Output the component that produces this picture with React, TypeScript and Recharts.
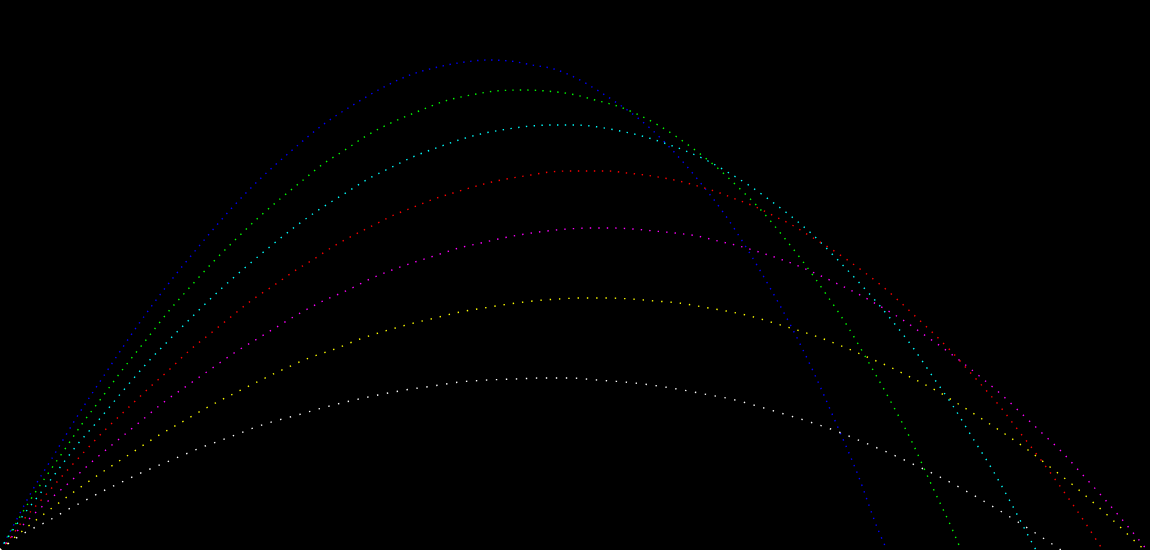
import { LineChart, Line, XAxis, YAxis } from 'recharts';

// distance (m), height (m) pairs
const blueArc: [number, number][] = [
  [0, 0], [1.1, 2.0], [3.2, 5.9], [5.4, 9.5], [7.5, 13.0], [10.7, 17.9], [13.8, 22.5], [16.9, 26.7],
  [20.0, 30.5], [23.0, 34.0], [26.0, 37.1], [29.0, 39.8], [32.4, 42.6], [35.3, 44.5], [38.2, 46.2],
  [41.0, 47.5], [43.8, 48.3], [46.5, 48.8], [48.8, 49.0], [51.0, 48.9], [53.2, 48.5], [55.4, 48.1],
  [57.6, 47.2], [59.7, 46.0], [61.7, 44.7], [63.0, 43.8], [65.1, 42.1], [67.5, 39.7], [69.9, 36.9],
  [72.3, 33.8], [74.6, 30.3], [76.9, 26.4], [79.2, 22.2], [81.4, 17.7], [83.6, 12.7], [85.8, 7.5],
  [87.9, 1.8], [88.7, 0],
];

const greenArc: [number, number][] = [
  [0, 0], [1.2, 2.0], [2.9, 4.8], [4.7, 7.5], [6.5, 10.1], [8.2, 12.6], [10.0, 15.0], [12.3, 18.1],
  [14.6, 21.0], [16.8, 23.8], [19.1, 26.4], [21.3, 28.8], [23.6, 31.1], [25.8, 33.2], [28.0, 35.1],
  [30.2, 36.9], [32.3, 38.6], [34.5, 40.0], [36.6, 41.4], [39.3, 42.8], [41.9, 43.9], [44.5, 44.9],
  [47.1, 45.5], [49.6, 45.9], [52.1, 46.0], [54.6, 45.9], [57.1, 45.6], [59.5, 45.0], [62.0, 44.3],
  [63.9, 43.5], [65.8, 42.5], [67.7, 41.3], [69.5, 40.0], [71.4, 38.5], [73.7, 36.4], [76.0, 34.1],
  [78.2, 31.5], [80.4, 28.7], [82.6, 25.6], [84.8, 22.3], [86.9, 18.7], [89.1, 14.8], [91.2, 10.8],
  [93.2, 6.4], [95.3, 1.9], [96.1, 0],
];

const cyanArc: [number, number][] = [
  [0, 0], [1.9, 2.9], [3.9, 5.5], [5.8, 8.0], [7.7, 10.5], [9.7, 12.8], [12.2, 15.8], [14.7, 18.7],
  [17.3, 21.4], [19.8, 23.9], [22.2, 26.2], [24.7, 28.4], [27.2, 30.5], [29.6, 32.4], [32.0, 34.1],
  [34.4, 35.6], [36.8, 37.1], [39.2, 38.3], [41.5, 39.4], [43.9, 40.3], [46.2, 41.1], [48.5, 41.7],
  [50.8, 42.1], [53.1, 42.4], [55.4, 42.5], [57.6, 42.5], [59.8, 42.3], [62.0, 41.9], [64.2, 41.4],
  [66.4, 40.7], [68.6, 39.9], [70.8, 38.9], [72.9, 37.7], [75.0, 36.4], [77.1, 34.9], [79.2, 33.3],
  [81.3, 31.5], [83.3, 29.5], [85.3, 27.4], [87.4, 25.1], [89.4, 22.7], [91.4, 20.1], [93.3, 17.3],
  [95.3, 14.4], [97.2, 11.3], [99.2, 8.1], [101.1, 4.7], [103.0, 1.1], [103.6, 0],
];

const redArc: [number, number][] = [
  [0, 0], [0.8, 0.9], [2.1, 2.7], [4.3, 5.2], [6.4, 7.6], [8.5, 9.9], [10.6, 12.1], [12.8, 14.2],
  [14.9, 16.2], [17.0, 18.1], [19.0, 20.0], [21.1, 21.7], [23.2, 23.4], [25.2, 25.0], [27.3, 26.4],
  [29.3, 27.8], [31.4, 29.1], [33.4, 30.4], [35.4, 31.5], [37.4, 32.5], [39.4, 33.5], [41.4, 34.3],
  [43.4, 35.1], [45.3, 35.7], [47.3, 36.3], [49.2, 36.8], [51.2, 37.2], [53.1, 37.5], [55.0, 37.8],
  [57.0, 37.9], [58.9, 37.9], [60.8, 37.9], [62.7, 37.7], [64.5, 37.5], [66.4, 37.2], [68.3, 36.8],
  [70.1, 36.3], [72.0, 35.7], [73.8, 35.0], [75.6, 34.3], [77.4, 33.4], [79.2, 32.5], [81.0, 31.4],
  [82.8, 30.3], [84.6, 29.1], [86.4, 27.8], [88.2, 26.4], [89.9, 24.9], [91.6, 23.3], [93.4, 21.6],
  [95.1, 19.9], [96.8, 18.0], [98.5, 16.1], [100.2, 14.1], [101.8, 12.0], [103.5, 9.8], [105.2, 7.5],
  [106.9, 5.1], [108.6, 2.6], [109.7, 0.9], [110.3, 0],
];

const magentaArc: [number, number][] = [
  [0, 0], [2.3, 2.5], [4.7, 4.8], [7.1, 6.9], [9.4, 9.0], [11.8, 11.0], [14.1, 12.9], [16.4, 14.8],
  [18.8, 16.5], [21.1, 18.1], [23.4, 19.7], [25.7, 21.1], [28.0, 22.5], [30.2, 23.8], [32.5, 25.0],
  [34.8, 26.0], [37.0, 27.1], [39.2, 28.0], [41.5, 28.8], [43.7, 29.5], [45.9, 30.2], [48.1, 30.7],
  [50.3, 31.2], [52.5, 31.6], [54.7, 31.9], [56.8, 32.1], [59.0, 32.2], [61.1, 32.2], [63.3, 32.1],
  [65.4, 31.9], [67.5, 31.7], [69.7, 31.4], [71.8, 30.9], [73.9, 30.4], [75.9, 29.8], [78.0, 29.1],
  [80.1, 28.3], [82.1, 27.4], [84.2, 26.4], [86.2, 25.4], [88.3, 24.2], [90.3, 23.0], [92.3, 21.6],
  [94.3, 20.2], [96.3, 18.7], [98.3, 17.1], [100.3, 15.4], [102.2, 13.6], [104.2, 11.7], [106.2, 9.8],
  [108.1, 7.7], [110.0, 5.6], [112.0, 3.3], [113.9, 1.0], [114.7, 0],
];

const yellowArc: [number, number][] = [
  [0, 0], [2.6, 2.2], [5.2, 4.2], [7.8, 6.1], [10.4, 7.9], [13.0, 9.6], [15.6, 11.3], [18.2, 12.8],
  [20.8, 14.3], [23.3, 15.6], [25.9, 16.9], [28.4, 18.1], [30.9, 19.2], [33.5, 20.1], [36.0, 21.1],
  [38.5, 21.9], [41.0, 22.6], [43.5, 23.2], [46.0, 23.8], [48.4, 24.2], [50.9, 24.6], [53.3, 24.9],
  [55.8, 25.1], [58.2, 25.2], [60.6, 25.2], [63.1, 25.1], [65.5, 24.9], [67.9, 24.7], [70.3, 24.3],
  [72.6, 23.9], [75.0, 23.4], [77.4, 22.7], [79.7, 22.0], [82.1, 21.2], [84.4, 20.3], [86.7, 19.3],
  [89.0, 18.3], [91.4, 17.1], [93.7, 15.9], [96.0, 14.5], [98.2, 13.1], [100.5, 11.6], [102.8, 10.0],
  [105.0, 8.3], [107.3, 6.5], [109.5, 4.6], [111.7, 2.6], [113.9, 0.5], [114.5, 0],
];

const whiteArc: [number, number][] = [
  [0, 0], [0.9, 0.7], [2.8, 1.9], [4.8, 2.9], [6.7, 4.0], [8.6, 5.0], [10.5, 6.0], [12.4, 6.9],
  [14.3, 7.8], [16.2, 8.6], [18.1, 9.4], [20.0, 10.2], [21.9, 10.9], [23.8, 11.6], [25.6, 12.3],
  [27.5, 12.9], [29.4, 13.4], [32.2, 14.2], [35.0, 14.9], [37.8, 15.5], [40.5, 16.0], [43.3, 16.4],
  [46.0, 16.8], [48.8, 17.0], [51.5, 17.1], [54.2, 17.2], [57.0, 17.2], [59.7, 17.0], [62.4, 16.8],
  [65.1, 16.5], [67.7, 16.1], [70.4, 15.6], [73.1, 15.1], [75.7, 14.4], [78.4, 13.6], [81.0, 12.8],
  [83.6, 11.9], [86.3, 10.8], [88.9, 9.7], [91.5, 8.5], [94.0, 7.3], [96.6, 5.9], [99.2, 4.4],
  [101.8, 2.8], [104.3, 1.2], [106.1, 0],
];

const series = [
  { name: 'blue', arc: blueArc, color: '#0000ff', dash: '1.4 5.6' },
  { name: 'green', arc: greenArc, color: '#00ff00', dash: '1.4 6.1' },
  { name: 'cyan', arc: cyanArc, color: '#00ffff', dash: '1.4 6.4' },
  { name: 'red', arc: redArc, color: '#ff0000', dash: '1.4 6.6' },
  { name: 'magenta', arc: magentaArc, color: '#ff00ff', dash: '1.4 7.1' },
  { name: 'yellow', arc: yellowArc, color: '#ffff00', dash: '1.4 7.9' },
  { name: 'white', arc: whiteArc, color: '#ffffff', dash: '1.4 8.6' },
];

export default function App() {
  return (
    <div style={{ position: 'fixed', left: 0, top: 0, width: 1150, height: 550, background: '#000' }}>
      <LineChart width={1150} height={550} margin={{ top: 0, right: 0, bottom: 0, left: 0 }}>
        <XAxis type="number" dataKey="x" domain={[0, 115]} hide />
        <YAxis type="number" dataKey="y" domain={[0, 55]} hide />
        {series.map(s => (
          <Line
            key={s.name}
            data={s.arc.map(([x, y]) => ({ x, y }))}
            dataKey="y"
            type="monotone"
            stroke={s.color}
            strokeWidth={1.4}
            strokeDasharray={s.dash}
            dot={false}
            activeDot={false}
            isAnimationActive={false}
          />
        ))}
      </LineChart>
    </div>
  );
}
